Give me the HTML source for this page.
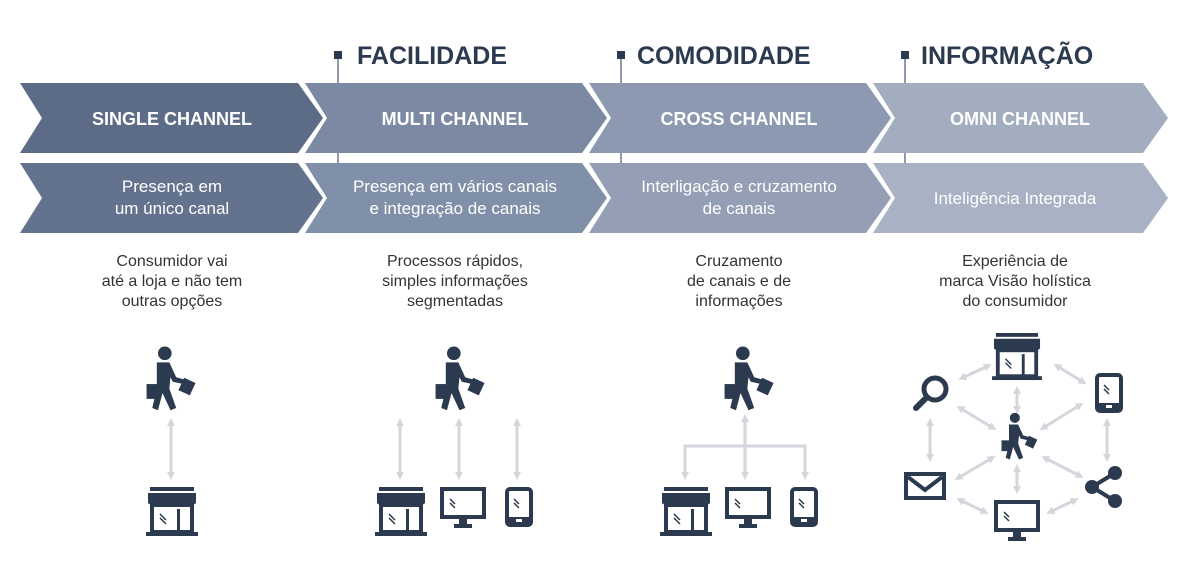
<!DOCTYPE html>
<html><head><meta charset="utf-8"><style>
body{margin:0;background:#fff;}
svg{display:block;}
text{font-family:"Liberation Sans",sans-serif;}
</style></head><body>
<svg width="1200" height="572" viewBox="0 0 1200 572" xmlns="http://www.w3.org/2000/svg">
<defs>
<marker id="ah" markerWidth="8" markerHeight="8" refX="4" refY="4" orient="auto-start-reverse" markerUnits="userSpaceOnUse"><path d="M0,0 L8,4 L0,8 z" fill="#d3d6dc"/></marker>
<symbol id="person" viewBox="0 0 50 60">
<circle cx="20" cy="7" r="6" fill="#2c3a50"/>
<path d="M13,15 L24,15 L30,28 L37,30 L36,34 L27,32 L25,28 L24,38 L30,55 L25,57 L18,42 L14,57 L9,55 L13,38 Z" fill="#2c3a50"/>
<rect x="4" y="34" width="10" height="13" fill="#2c3a50"/>
<rect x="34" y="30" width="11" height="12" transform="rotate(25 39 36)" fill="#2c3a50"/>
</symbol>
<symbol id="store" viewBox="0 0 52 50">
<rect x="4" y="0" width="44" height="4" fill="#2c3a50"/>
<path d="M2,6 L50,6 L50,16 Q46,20 42,16 Q38,20 34,16 Q30,20 26,16 Q22,20 18,16 Q14,20 10,16 Q6,20 2,16Z" fill="#2c3a50"/>
<rect x="6" y="18" width="40" height="27" fill="none" stroke="#2c3a50" stroke-width="4"/>
<rect x="31" y="22" width="3" height="23" fill="#2c3a50"/>
<rect x="0" y="45" width="52" height="4" fill="#2c3a50"/>
<path d="M14,27 l6,6 M14,31 l6,6" stroke="#2c3a50" stroke-width="1.5"/>
</symbol>
<symbol id="monitor" viewBox="0 0 46 42">
<rect x="2" y="2" width="42" height="28" fill="none" stroke="#2c3a50" stroke-width="4"/>
<rect x="0" y="28" width="46" height="4" fill="#2c3a50"/>
<rect x="19" y="32" width="8" height="6" fill="#2c3a50"/>
<rect x="14" y="37" width="18" height="4" fill="#2c3a50"/>
<path d="M10,12 l5,5 M10,16 l5,5" stroke="#2c3a50" stroke-width="1.5"/>
</symbol>
<symbol id="phone" viewBox="0 0 28 40">
<rect x="2" y="2" width="24" height="36" rx="3" fill="none" stroke="#2c3a50" stroke-width="4"/>
<rect x="2" y="30" width="24" height="8" fill="#2c3a50"/>
<rect x="11" y="32" width="6" height="3" fill="#fff"/>
<path d="M9,12 l5,5 M9,16 l5,5" stroke="#2c3a50" stroke-width="1.5"/>
</symbol>
</defs>

<!-- markers (behind chevrons) -->
<g fill="#2c3a50">
<line x1="338" y1="56" x2="338" y2="163" stroke-width="1.5" stroke="#6a7890"/>
<rect x="334" y="51" width="8" height="8"/>
<line x1="621" y1="56" x2="621" y2="163" stroke-width="1.5" stroke="#6a7890"/>
<rect x="617" y="51" width="8" height="8"/>
<line x1="905" y1="56" x2="905" y2="163" stroke-width="1.5" stroke="#6a7890"/>
<rect x="901" y="51" width="8" height="8"/>
</g>
<!-- chevrons -->
<g>
<path d="M20,83 L298,83 L323,118 L298,153 L20,153 L42,118Z" fill="#5c6b86"/>
<path d="M305,83 L582,83 L607,118 L582,153 L305,153 L327,118Z" fill="#7b89a3"/>
<path d="M589,83 L866,83 L891,118 L866,153 L589,153 L611,118Z" fill="#8c99b0"/>
<path d="M873,83 L1143,83 L1168,118 L1143,153 L873,153 L895,118Z" fill="#a2adc0"/>
<path d="M20,163 L298,163 L323,198 L298,233 L20,233 L42,198Z" fill="#63738e"/>
<path d="M305,163 L582,163 L607,198 L582,233 L305,233 L327,198Z" fill="#8190a9"/>
<path d="M589,163 L866,163 L891,198 L866,233 L589,233 L611,198Z" fill="#949fb5"/>
<path d="M873,163 L1143,163 L1168,198 L1143,233 L873,233 L895,198Z" fill="#a8b2c4"/>
</g>
<g font-weight="bold" font-size="25" fill="#2c3a50">
<text x="357" y="64">FACILIDADE</text>
<text x="637" y="64">COMODIDADE</text>
<text x="921" y="64">INFORMAÇÃO</text>
</g>
<g font-weight="bold" font-size="18" fill="#fff" text-anchor="middle">
<text x="172" y="125">SINGLE CHANNEL</text>
<text x="455" y="125">MULTI CHANNEL</text>
<text x="739" y="125">CROSS CHANNEL</text>
<text x="1020" y="125">OMNI CHANNEL</text>
</g>
<g font-size="17" fill="#fff" text-anchor="middle">
<text x="172" y="192">Presença em</text><text x="172" y="214">um único canal</text>
<text x="455" y="192">Presença em vários canais</text><text x="455" y="214">e integração de canais</text>
<text x="739" y="192">Interligação e cruzamento</text><text x="739" y="214">de canais</text>
<text x="1015" y="204">Inteligência Integrada</text>
</g>
<g font-size="16" fill="#333" text-anchor="middle">
<text x="172" y="266">Consumidor vai</text><text x="172" y="286">até a loja e não tem</text><text x="172" y="306">outras opções</text>
<text x="455" y="266">Processos rápidos,</text><text x="455" y="286">simples informações</text><text x="455" y="306">segmentadas</text>
<text x="739" y="266">Cruzamento</text><text x="739" y="286">de canais e de</text><text x="739" y="306">informações</text>
<text x="1015" y="266">Experiência de</text><text x="1015" y="286">marca Visão holística</text><text x="1015" y="306">do consumidor</text>
</g>

<!-- connectors -->
<g stroke="#d3d6dc" stroke-width="3" fill="none">
<line x1="171" y1="422" x2="171" y2="476" marker-start="url(#ah)" marker-end="url(#ah)"/>
<line x1="400" y1="422" x2="400" y2="476" marker-start="url(#ah)" marker-end="url(#ah)"/>
<line x1="459" y1="422" x2="459" y2="476" marker-start="url(#ah)" marker-end="url(#ah)"/>
<line x1="517" y1="422" x2="517" y2="476" marker-start="url(#ah)" marker-end="url(#ah)"/>
<line x1="745" y1="418" x2="745" y2="446" marker-start="url(#ah)"/>
<polyline points="685,476 685,446 805,446 805,476" marker-start="url(#ah)" marker-end="url(#ah)"/>
<line x1="745" y1="446" x2="745" y2="476" marker-end="url(#ah)"/>
<line x1="1017" y1="390" x2="1017" y2="410" marker-start="url(#ah)" marker-end="url(#ah)"/>
<line x1="1017" y1="468" x2="1017" y2="490" marker-start="url(#ah)" marker-end="url(#ah)"/>
<line x1="962" y1="378" x2="988" y2="366" marker-start="url(#ah)" marker-end="url(#ah)"/>
<line x1="1057" y1="366" x2="1083" y2="382" marker-start="url(#ah)" marker-end="url(#ah)"/>
<line x1="960" y1="408" x2="993" y2="428" marker-start="url(#ah)" marker-end="url(#ah)"/>
<line x1="1043" y1="428" x2="1080" y2="405" marker-start="url(#ah)" marker-end="url(#ah)"/>
<line x1="930" y1="422" x2="930" y2="458" marker-start="url(#ah)" marker-end="url(#ah)"/>
<line x1="1107" y1="422" x2="1107" y2="458" marker-start="url(#ah)" marker-end="url(#ah)"/>
<line x1="958" y1="478" x2="992" y2="458" marker-start="url(#ah)" marker-end="url(#ah)"/>
<line x1="1045" y1="458" x2="1080" y2="476" marker-start="url(#ah)" marker-end="url(#ah)"/>
<line x1="960" y1="500" x2="985" y2="512" marker-start="url(#ah)" marker-end="url(#ah)"/>
<line x1="1050" y1="512" x2="1075" y2="500" marker-start="url(#ah)" marker-end="url(#ah)"/>
</g>

<!-- icons -->
<use href="#person" x="142" y="345" width="57" height="69"/>
<use href="#store" x="146" y="487" width="52" height="50"/>
<use href="#person" x="431" y="345" width="57" height="69"/>
<use href="#store" x="375" y="487" width="52" height="50"/>
<use href="#monitor" x="440" y="487" width="46" height="42"/>
<use href="#phone" x="505" y="487" width="28" height="40"/>
<use href="#person" x="720" y="345" width="57" height="69"/>
<use href="#store" x="660" y="487" width="52" height="50"/>
<use href="#monitor" x="725" y="487" width="46" height="42"/>
<use href="#phone" x="790" y="487" width="28" height="40"/>

<use href="#store" x="991" y="333" width="52" height="48"/>
<use href="#person" x="998" y="412" width="42" height="50"/>
<use href="#phone" x="1095" y="373" width="28" height="40"/>
<use href="#monitor" x="994" y="500" width="46" height="42"/>
<g fill="#2c3a50" stroke="#2c3a50">
<circle cx="935" cy="389" r="11" fill="none" stroke-width="5"/>
<line x1="926" y1="398" x2="916" y2="408" stroke-width="6" stroke-linecap="round"/>
<rect x="906" y="474" width="38" height="24" fill="none" stroke-width="4"/>
<polyline points="908,477 925,490 942,477" fill="none" stroke-width="4"/>
<circle cx="1115" cy="473" r="7" stroke="none"/>
<circle cx="1115" cy="501" r="7" stroke="none"/>
<circle cx="1092" cy="487" r="7" stroke="none"/>
<line x1="1092" y1="487" x2="1115" y2="473" stroke-width="4"/>
<line x1="1092" y1="487" x2="1115" y2="501" stroke-width="4"/>
</g>
</svg>
</body></html>
